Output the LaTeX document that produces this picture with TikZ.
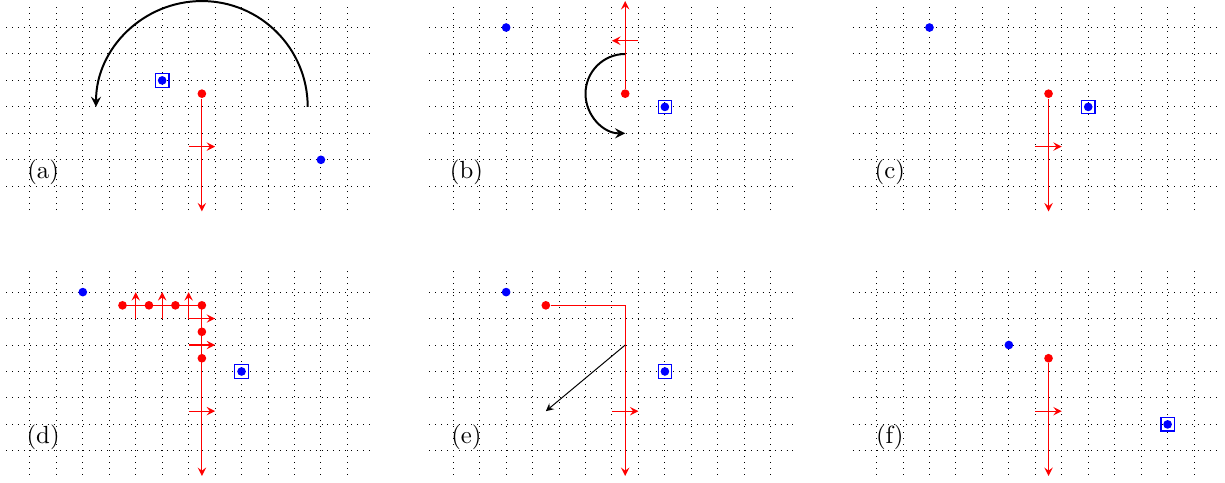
\documentclass[tikz,border=0pt]{standalone}
\usetikzlibrary{arrows}
\begin{document}
\begin{tikzpicture}[x=0.375cm,y=0.375cm,
  gridl/.style={dotted, line width=0.4pt, step=0.375cm},
  bdot/.style={circle, fill=blue, inner sep=0pt, minimum size=3.5pt},
  rdot/.style={circle, fill=red, inner sep=0pt, minimum size=3.5pt},
  tgt/.style={draw=blue, rectangle, inner sep=0pt, minimum size=5.4pt, line width=0.5pt},
  rline/.style={red, line width=0.5pt, -stealth},
  rpath/.style={red, line width=0.5pt},
  turn/.style={thick, -stealth},
  plabel/.style={inner sep=1pt}
]
\useasboundingbox (-1.13,-11.21) rectangle (45.17,7.04);

% ---------- panel (a)
\begin{scope}
\draw[gridl] (-0.9,-0.9) grid (12.9,6.9);
\node[plabel] (a-l) at (0.5,0.53) {(a)};
\node[bdot] (a-t) at (5,4) {};
\node[tgt] (a-tb) at (5,4) {};
\node[bdot] (a-b) at (11,1) {};
\node[rdot] (a-r) at (6.5,3.5) {};
\coordinate (a-e) at (6.5,-0.95);
\draw[rline] (a-r) -- (a-e);
\coordinate (a-s1) at (6,1.5);
\coordinate (a-s2) at (7,1.5);
\draw[rline] (a-s1) -- (a-s2);
\coordinate (a-c) at (10.5,3);
\draw[turn] (a-c) arc[start angle=0, end angle=180, radius=4];
\end{scope}

% ---------- panel (b)
\begin{scope}[shift={(16,0)}]
\draw[gridl] (-0.9,-0.9) grid (12.9,6.9);
\node[plabel] (b-l) at (0.5,0.53) {(b)};
\node[bdot] (b-b) at (2,6) {};
\node[bdot] (b-t) at (8,3) {};
\node[tgt] (b-tb) at (8,3) {};
\node[rdot] (b-r) at (6.5,3.5) {};
\coordinate (b-e) at (6.5,7);
\draw[rline] (b-r) -- (b-e);
\coordinate (b-s1) at (7,5.5);
\coordinate (b-s2) at (6,5.5);
\draw[rline] (b-s1) -- (b-s2);
\coordinate (b-c) at (6.5,5);
\draw[turn] (b-c) arc[start angle=90, end angle=270, radius=1.5];
\end{scope}

% ---------- panel (c)
\begin{scope}[shift={(32,0)}]
\draw[gridl] (-0.9,-0.9) grid (12.9,6.9);
\node[plabel] (c-l) at (0.5,0.53) {(c)};
\node[bdot] (c-b) at (2,6) {};
\node[bdot] (c-t) at (8,3) {};
\node[tgt] (c-tb) at (8,3) {};
\node[rdot] (c-r) at (6.5,3.5) {};
\coordinate (c-e) at (6.5,-0.95);
\draw[rline] (c-r) -- (c-e);
\coordinate (c-s1) at (6,1.5);
\coordinate (c-s2) at (7,1.5);
\draw[rline] (c-s1) -- (c-s2);
\end{scope}

% ---------- panel (d)
\begin{scope}[shift={(0,-10)}]
\draw[gridl] (-0.9,-0.9) grid (12.9,6.9);
\node[plabel] (d-l) at (0.5,0.53) {(d)};
\node[bdot] (d-b) at (2,6) {};
\node[bdot] (d-t) at (8,3) {};
\node[tgt] (d-tb) at (8,3) {};
\coordinate (d-p0) at (3.5,5.5);
\coordinate (d-k) at (6.5,5.5);
\coordinate (d-e) at (6.5,-0.95);
\draw[rpath] (d-p0) -- (d-k);
\draw[rline] (d-k) -- (d-e);
\node[rdot] (d-r1) at (3.5,5.5) {};
\node[rdot] (d-r2) at (4.5,5.5) {};
\node[rdot] (d-r3) at (5.5,5.5) {};
\node[rdot] (d-r4) at (6.5,5.5) {};
\node[rdot] (d-r5) at (6.5,4.5) {};
\node[rdot] (d-r6) at (6.5,3.5) {};
\coordinate (d-u1a) at (4,5); \coordinate (d-u1b) at (4,6);
\coordinate (d-u2a) at (5,5); \coordinate (d-u2b) at (5,6);
\coordinate (d-u3a) at (6,5); \coordinate (d-u3b) at (6,6);
\draw[rline] (d-u1a) -- (d-u1b);
\draw[rline] (d-u2a) -- (d-u2b);
\draw[rline] (d-u3a) -- (d-u3b);
\coordinate (d-h1b) at (7,5);
\coordinate (d-h2a) at (6,4); \coordinate (d-h2b) at (7,4);
\coordinate (d-h3a) at (6,1.5); \coordinate (d-h3b) at (7,1.5);
\draw[rline] (d-u3a) -- (d-h1b);
\draw[rline] (d-h2a) -- (d-h2b);
\draw[rline] (d-h3a) -- (d-h3b);
\end{scope}

% ---------- panel (e)
\begin{scope}[shift={(16,-10)}]
\draw[gridl] (-0.9,-0.9) grid (12.9,6.9);
\node[plabel] (e-l) at (0.5,0.53) {(e)};
\node[bdot] (e-b) at (2,6) {};
\node[bdot] (e-t) at (8,3) {};
\node[tgt] (e-tb) at (8,3) {};
\node[rdot] (e-r) at (3.5,5.5) {};
\coordinate (e-k) at (6.5,5.5);
\coordinate (e-e) at (6.5,-0.95);
\draw[rpath] (e-r) -- (e-k);
\draw[rline] (e-k) -- (e-e);
\coordinate (e-s1) at (6,1.5);
\coordinate (e-s2) at (7,1.5);
\draw[rline] (e-s1) -- (e-s2);
\coordinate (e-v1) at (6.5,4);
\coordinate (e-v2) at (3.5,1.5);
\draw[-stealth] (e-v1) -- (e-v2);
\end{scope}

% ---------- panel (f)
\begin{scope}[shift={(32,-10)}]
\draw[gridl] (-0.9,-0.9) grid (12.9,6.9);
\node[plabel] (f-l) at (0.5,0.53) {(f)};
\node[bdot] (f-b) at (5,4) {};
\node[bdot] (f-t) at (11,1) {};
\node[tgt] (f-tb) at (11,1) {};
\node[rdot] (f-r) at (6.5,3.5) {};
\coordinate (f-e) at (6.5,-0.95);
\draw[rline] (f-r) -- (f-e);
\coordinate (f-s1) at (6,1.5);
\coordinate (f-s2) at (7,1.5);
\draw[rline] (f-s1) -- (f-s2);
\end{scope}
\end{tikzpicture}
\end{document}
